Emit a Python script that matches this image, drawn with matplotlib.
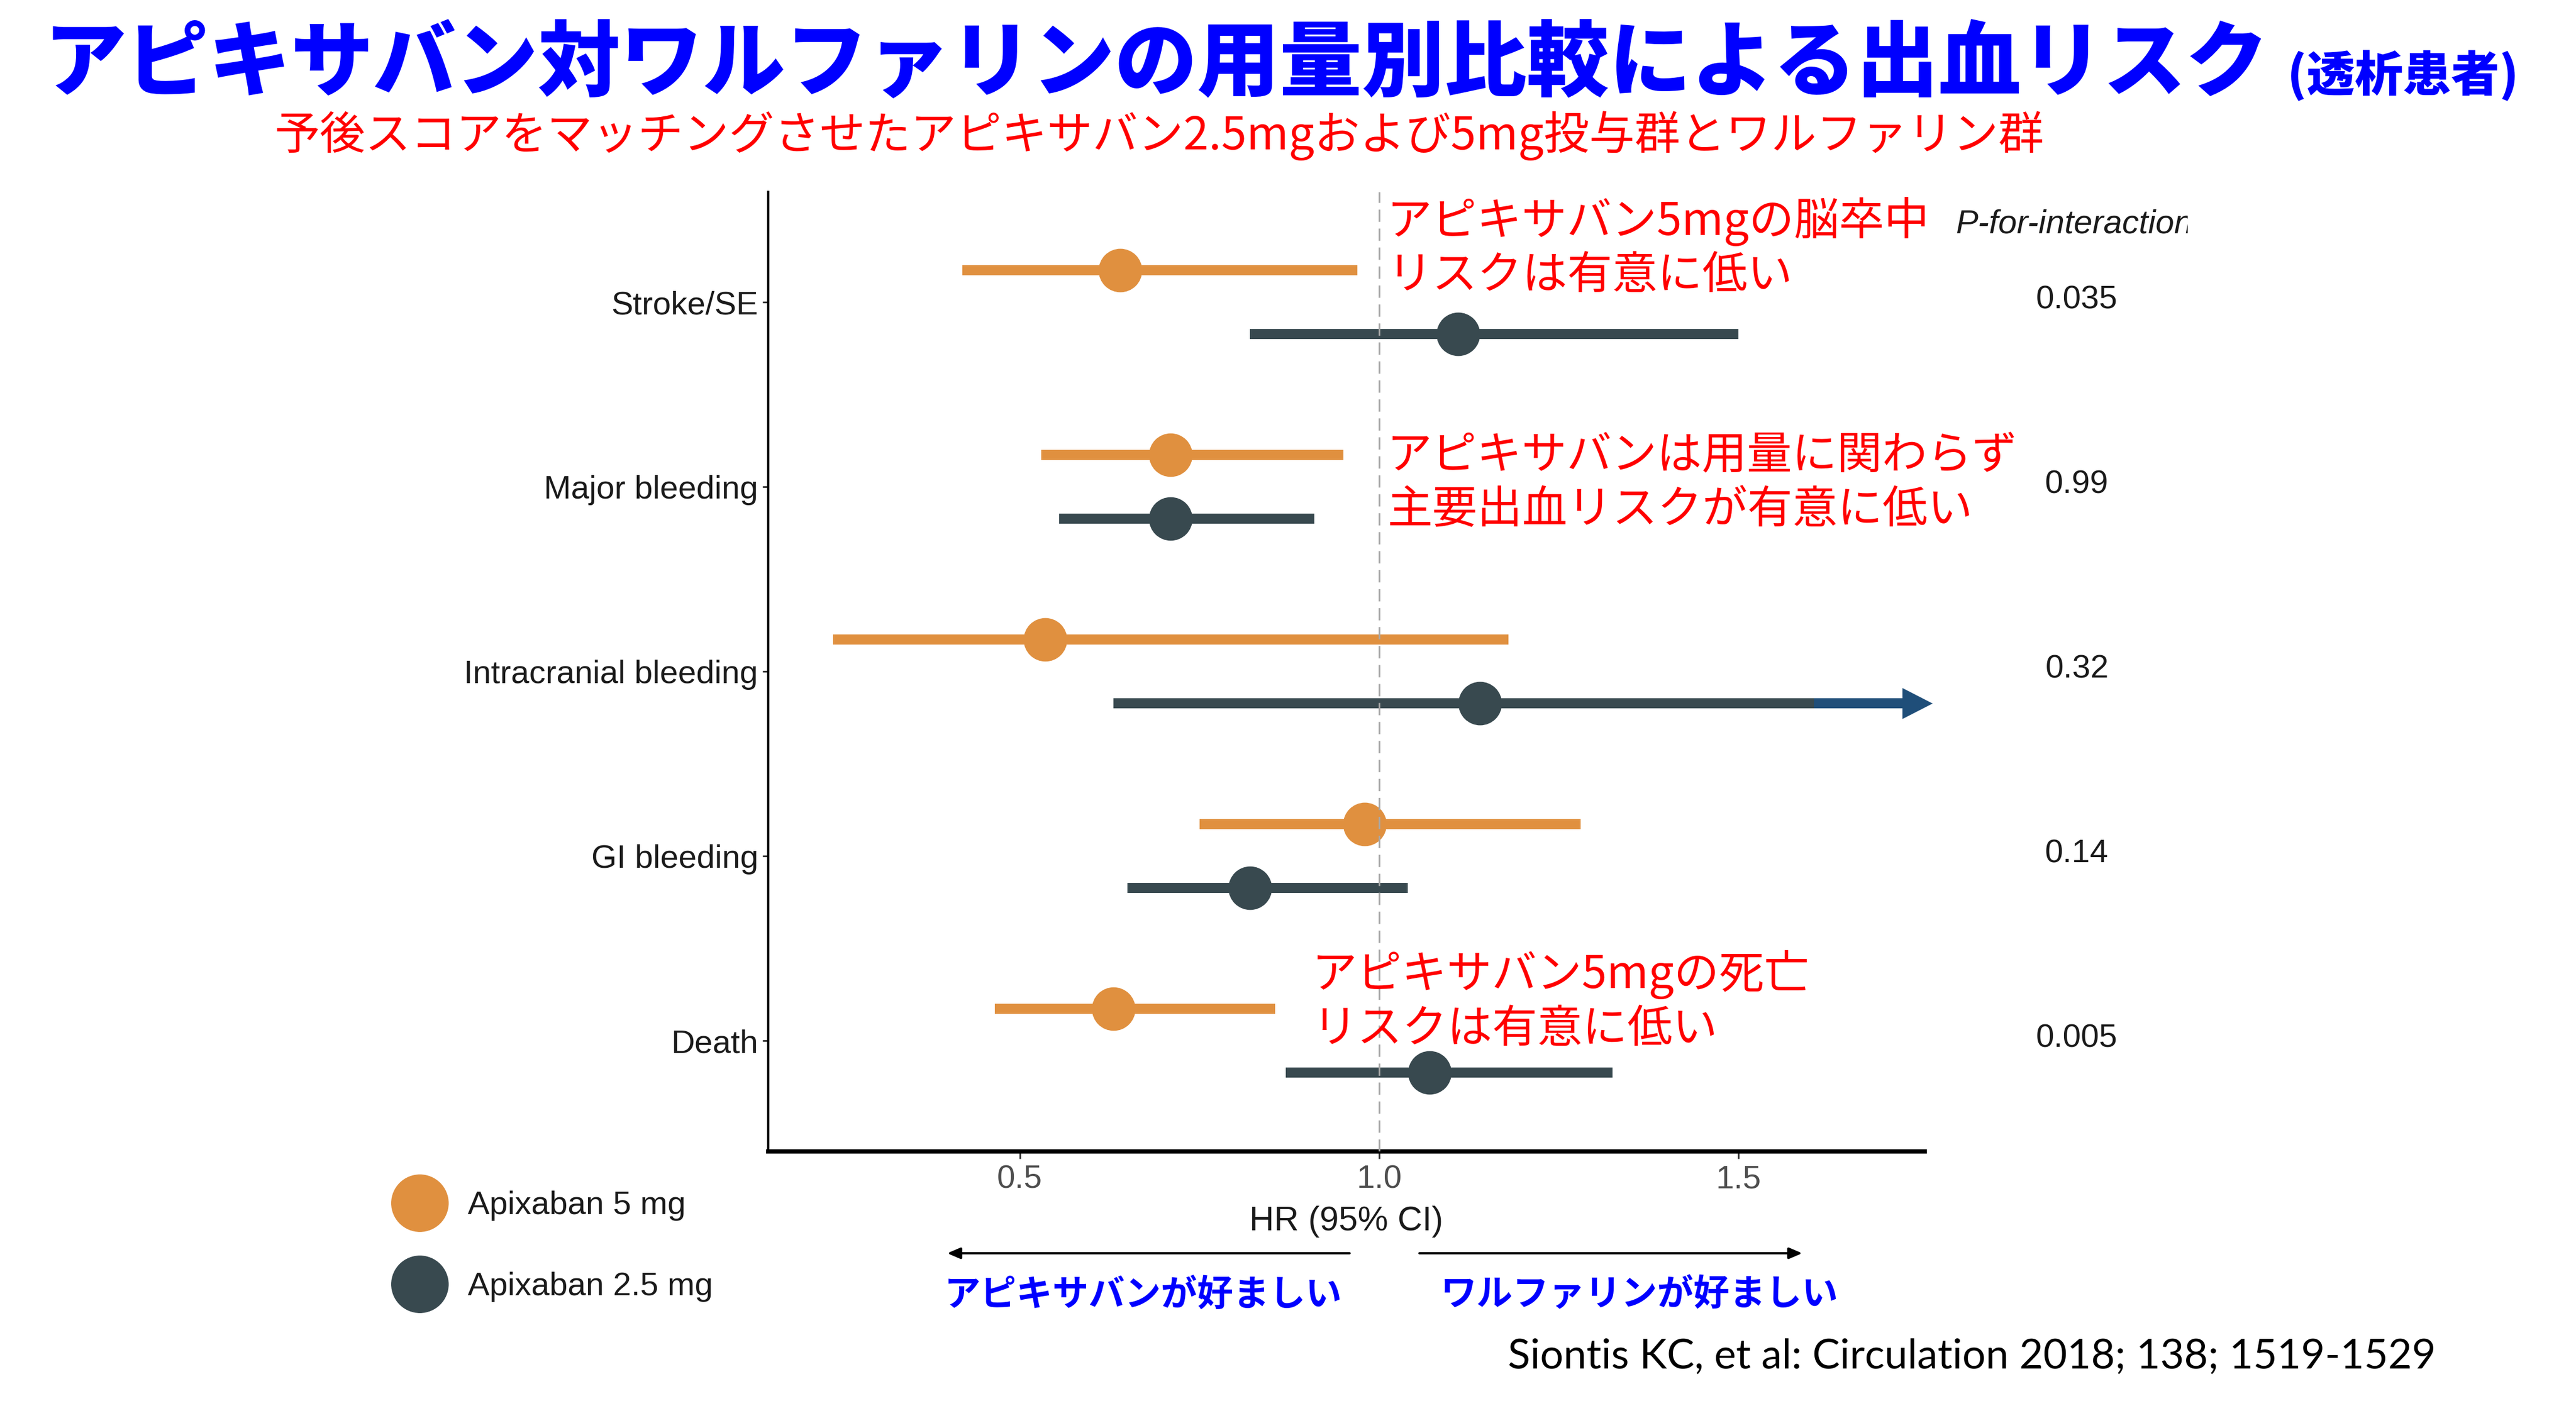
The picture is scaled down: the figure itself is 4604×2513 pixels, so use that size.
import matplotlib
matplotlib.use("Agg")
import matplotlib.pyplot as plt
from matplotlib.lines import Line2D
from matplotlib.patches import FancyArrowPatch
from matplotlib.transforms import blended_transform_factory

W, H = 4604, 2513

# ---------------- data ----------------
categories = ["Stroke/SE", "Major bleeding", "Intracranial bleeding", "GI bleeding", "Death"]
hr_5mg = [0.64, 0.71, 0.535, 0.98, 0.63]
lo_5mg = [0.42, 0.53, 0.24, 0.75, 0.465]
hi_5mg = [0.97, 0.95, 1.18, 1.28, 0.855]
hr_25mg = [1.11, 0.71, 1.14, 0.82, 1.07]
lo_25mg = [0.82, 0.555, 0.63, 0.65, 0.87]
hi_25mg = [1.50, 0.91, 1.77, 1.04, 1.325]
truncated_25mg = [False, False, True, False, False]
p_interaction = ["0.035", "0.99", "0.32", "0.14", "0.005"]
xticks = [0.5, 1.0, 1.5]
xtick_labels = ["0.5", "1.0", "1.5"]
series_labels = ["Apixaban 5 mg", "Apixaban 2.5 mg"]

ORANGE = "#E0903F"
DARK = "#38494F"
BLUE_ARROW = "#1F4E79"
CJK = ["Noto Sans CJK JP", "DejaVu Sans"]
LAT = ["Liberation Sans", "DejaVu Sans"]

fig = plt.figure(figsize=(W / 100, H / 100), dpi=100)
fig.patch.set_facecolor("white")

def fx(x):
    return x / W

def fy(y):
    return 1 - y / H

# axes placement (pixels): left 1373, right 3440, top 343, bottom 2058
ax = fig.add_axes([fx(1373), fy(2058), (3440 - 1373) / W, (2058 - 343) / H])
ax.set_xlim(0.150, 1.759)
ax.set_ylim(-0.6, 4.597)

n = len(categories)
ypos = [n - 1 - i for i in range(n)]
off = 0.174
LW = 13
MS = 55

for i in range(n):
    y5 = ypos[i] + off
    y2 = ypos[i] - off
    ax.plot([lo_5mg[i], hi_5mg[i]], [y5, y5], color=ORANGE, lw=LW, solid_capstyle="butt", zorder=2)
    ax.plot([hr_5mg[i]], [y5], marker="o", ms=MS, color=ORANGE, mec=ORANGE, zorder=3)
    if truncated_25mg[i]:
        head = 0.041
        blue_start = hi_25mg[i] - 0.165
        ax.plot([lo_25mg[i], blue_start], [y2, y2], color=DARK, lw=LW, solid_capstyle="butt", zorder=2, clip_on=False)
        ax.plot([blue_start, hi_25mg[i] - head], [y2, y2], color=BLUE_ARROW, lw=LW, solid_capstyle="butt", zorder=2, clip_on=False)
        ax.annotate("", xy=(hi_25mg[i], y2), xytext=(hi_25mg[i] - head, y2),
                    arrowprops=dict(arrowstyle="-|>,head_length=38,head_width=19.5", mutation_scale=1,
                                    color=BLUE_ARROW, lw=0.5, shrinkA=0, shrinkB=0),
                    annotation_clip=False, zorder=2)
    else:
        ax.plot([lo_25mg[i], hi_25mg[i]], [y2, y2], color=DARK, lw=LW, solid_capstyle="butt", zorder=2)
    ax.plot([hr_25mg[i]], [y2], marker="o", ms=MS, color=DARK, mec=DARK, zorder=3)

ax.axvline(1.0, color="#A8A8A8", lw=2.2, linestyle=(0, (7.2, 3.9)), zorder=4)

for s in ["top", "right"]:
    ax.spines[s].set_visible(False)
ax.spines["left"].set_linewidth(3)
ax.spines["bottom"].set_linewidth(5.5)
ax.spines["left"].set_color("black")
ax.spines["bottom"].set_color("black")

ax.set_yticks(ypos)
ax.set_yticklabels(categories, fontsize=42, family=LAT, color="#1A1A1A")
ax.set_xticks(xticks)
ax.set_xticklabels(xtick_labels, fontsize=42, family=LAT, color="#4D4D4D")
ax.tick_params(axis="y", length=7, width=2.2, color="#333333", pad=6)
ax.tick_params(axis="x", length=9, width=2.2, color="#333333", pad=8)
ax.set_xlabel("HR (95% CI)", fontsize=44, family=LAT, color="#1A1A1A", labelpad=14)

# p-for-interaction
bt = blended_transform_factory(fig.transFigure, ax.transData)
for i in range(n):
    ax.text(fx(3712), ypos[i] + 0.01, p_interaction[i], transform=bt, ha="center", va="center",
            fontsize=42, family=LAT, color="#1A1A1A", clip_on=False)

# header clipped at its right edge, as in the source figure
hdr_ax = fig.add_axes([fx(3450), fy(470), (3910 - 3450) / W, (470 - 330) / H])
hdr_ax.axis("off")
hdr_ax.text(fx(3495), fy(401), "P-for-interaction", transform=fig.transFigure, ha="left", va="center",
            fontsize=43, family=LAT, style="italic", color="#1A1A1A", clip_on=True)

# titles
fig.text(fx(78), fy(116), "アピキサバン対ワルファリンの用量別比較による出血リスク", ha="left", va="center",
         fontsize=106, family=CJK, weight="black", color="#0000FF")
fig.text(fx(4088), fy(136), "(透析患者)", ha="left", va="center",
         fontsize=62, family=CJK, weight="black", color="#0000FF")
fig.text(fx(491), fy(243), "予後スコアをマッチングさせたアピキサバン2.5mgおよび5mg投与群とワルファリン群",
         ha="left", va="center", fontsize=58.5, family=CJK, color="#FF0000")

# annotations
ann = [
    (2479, 396, "アピキサバン5mgの脳卒中"),
    (2479, 493, "リスクは有意に低い"),
    (2479, 815, "アピキサバンは用量に関わらず"),
    (2479, 912, "主要出血リスクが有意に低い"),
    (2345, 1742, "アピキサバン5mgの死亡"),
    (2345, 1840, "リスクは有意に低い"),
]
for x, y, t in ann:
    fig.text(fx(x), fy(y), t, ha="left", va="center", fontsize=58, family=CJK, color="#FF0000")

# direction arrows
fig.add_artist(FancyArrowPatch((2412, H - 2240), (1693, H - 2240), transform=None,
               arrowstyle="-|>,head_length=14,head_width=6", mutation_scale=1, lw=3, color="black",
               shrinkA=0, shrinkB=0))
fig.add_artist(FancyArrowPatch((2537, H - 2240), (3221, H - 2240), transform=None,
               arrowstyle="-|>,head_length=14,head_width=6", mutation_scale=1, lw=3, color="black",
               shrinkA=0, shrinkB=0))
fig.text(fx(2043), fy(2315), "アピキサバンが好ましい", ha="center", va="center", fontsize=46.5,
         family=CJK, weight="bold", color="#0000FF")
fig.text(fx(2930), fy(2315), "ワルファリンが好ましい", ha="center", va="center", fontsize=46.5,
         family=CJK, weight="bold", color="#0000FF")

# legend (manual)
for (yy, col, lab) in [(2150, ORANGE, series_labels[0]), (2295, DARK, series_labels[1])]:
    fig.add_artist(Line2D([fx(750)], [fy(yy)], transform=fig.transFigure, marker="o", ms=73,
                          color=col, mec=col, linestyle="none"))
    fig.text(fx(836), fy(yy + 5), lab, ha="left", va="center", fontsize=42, family=LAT, color="#1A1A1A")

# citation
fig.text(fx(2695), fy(2426), "Siontis KC, et al: Circulation 2018; 138; 1519-1529", ha="left", va="center",
         fontsize=53, family=["Lato", "DejaVu Sans"], color="black")

fig.savefig("out.png", dpi=100, facecolor="white")
